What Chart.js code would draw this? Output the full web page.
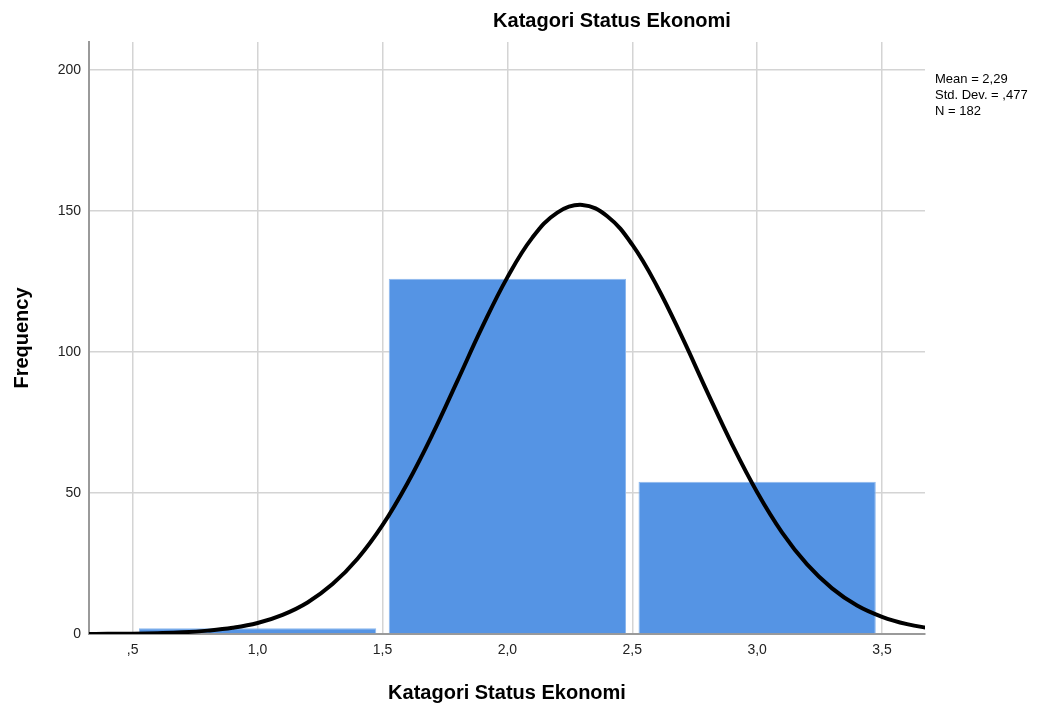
<!DOCTYPE html>
<html>
<head>
<meta charset="utf-8">
<title>Katagori Status Ekonomi</title>
<script src="https://cdn.jsdelivr.net/npm/chart.js@4/dist/chart.umd.min.js"></script>
<style>
  html, body { margin: 0; padding: 0; background: #ffffff; }
  #wrap { width: 1057px; height: 713px; }
</style>
</head>
<body>
<div id="wrap"><canvas id="histChart" width="1057" height="713"></canvas></div>
<script>
// kategori (tengah bin) dan frekuensi tiap bin
const binCenters = [1, 2, 3];
const binCounts = [2, 126, 54];

// kurva normal
const curveX = [0.3, 0.4, 0.5, 0.6, 0.7, 0.8, 0.9, 1.0, 1.1, 1.2, 1.3, 1.4, 1.5, 1.6, 1.7, 1.8, 1.9,
                2.0, 2.1, 2.2, 2.3, 2.4, 2.5, 2.6, 2.7, 2.8, 2.9, 3.0, 3.1, 3.2, 3.3, 3.4, 3.5, 3.6, 3.7];
const curveY = [0.03, 0.06, 0.13, 0.3, 0.6, 1.2, 2.2, 3.9, 6.8, 11.2, 17.7, 26.7, 38.6, 53.5, 70.8, 89.8, 109,
                126.5, 140.6, 149.5, 152.2, 148.2, 138.1, 123.2, 105.2, 85.9, 67.2, 50.3, 36, 24.7, 16.2, 10.1, 6.1, 3.5, 1.9];

// label sumbu
const xTicks = [0.5, 1.0, 1.5, 2.0, 2.5, 3.0, 3.5];
const yTicks = [0, 50, 100, 150, 200];
const statLines = ['Mean = 2,29', 'Std. Dev. = ,477', 'N = 182'];

const FONT = "Arial, 'Liberation Sans', sans-serif";

// format angka gaya SPSS: koma desimal, tanpa nol di depan
function spssNumber(v) {
    let s = v.toFixed(1).replace('.', ',');
    if (s.startsWith('0,')) s = s.substring(1);
    return s;
}

// plugin: judul utama + teks statistik di kanan
const extraText = {
    id: 'extraText',
    afterDraw(chart) {
        const ctx = chart.ctx;
        const area = chart.chartArea;
        ctx.save();
        ctx.fillStyle = '#000';
        ctx.font = 'bold 20px ' + FONT;
        ctx.textAlign = 'center';
        ctx.textBaseline = 'middle';
        ctx.fillText('Katagori Status Ekonomi', 612, 21);

        ctx.font = '13px ' + FONT;
        ctx.textAlign = 'left';
        statLines.forEach((t, i) => {
            ctx.fillText(t, area.right + 10, 79 + i * 16);
        });
        ctx.restore();
    }
};

const ctx = document.getElementById('histChart').getContext('2d');
new Chart(ctx, {
    type: 'bar',
    data: {
        datasets: [
            {
                type: 'line',
                data: curveX.map((x, i) => ({ x: x, y: curveY[i] })),
                borderColor: '#000000',
                borderWidth: 4,
                pointRadius: 0,
                tension: 0.4,
                fill: false,
                order: 0
            },
            {
                type: 'bar',
                data: binCenters.map((x, i) => ({ x: x, y: binCounts[i] })),
                backgroundColor: '#5594e4',
                borderColor: '#8db8ee',
                borderWidth: 1,
                // lebar sampel diambil dari jarak tick (0,5), jadi 0,95 bin = 1,9 x jarak tick
                barPercentage: 1.9,
                categoryPercentage: 1.0,
                order: 1
            }
        ]
    },
    options: {
        responsive: false,
        animation: false,
        layout: { padding: { top: 42, right: 132, bottom: 0, left: 0 } },
        plugins: {
            legend: { display: false },
            tooltip: { enabled: false },
            title: { display: false }
        },
        scales: {
            x: {
                type: 'linear',
                offset: false,
                min: 0.325,
                max: 3.672,
                afterBuildTicks: axis => { axis.ticks = xTicks.map(v => ({ value: v })); },
                afterFit: axis => { axis.height = 79; },
                grid: { color: '#d4d4d4', lineWidth: 1.5, drawTicks: false, offset: false },
                border: { color: '#9a9a9a', width: 2 },
                ticks: {
                    padding: 8,
                    color: '#222',
                    font: { family: FONT, size: 14 },
                    callback: v => spssNumber(v)
                },
                title: {
                    display: true,
                    text: 'Katagori Status Ekonomi',
                    color: '#000',
                    font: { family: FONT, size: 20, weight: 'bold' },
                    padding: { top: 0, bottom: 8 }
                }
            },
            y: {
                min: 0,
                max: 210,
                afterBuildTicks: axis => { axis.ticks = yTicks.map(v => ({ value: v })); },
                afterFit: axis => { axis.width = 89; },
                grid: { color: '#d4d4d4', lineWidth: 1.5, drawTicks: false },
                border: { color: '#9a9a9a', width: 2 },
                ticks: {
                    padding: 8,
                    color: '#222',
                    font: { family: FONT, size: 14 }
                },
                title: {
                    display: true,
                    text: 'Frequency',
                    color: '#000',
                    font: { family: FONT, size: 20, weight: 'bold' },
                    padding: { top: 10, bottom: 0 }
                }
            }
        }
    },
    plugins: [extraText]
});
</script>
</body>
</html>
